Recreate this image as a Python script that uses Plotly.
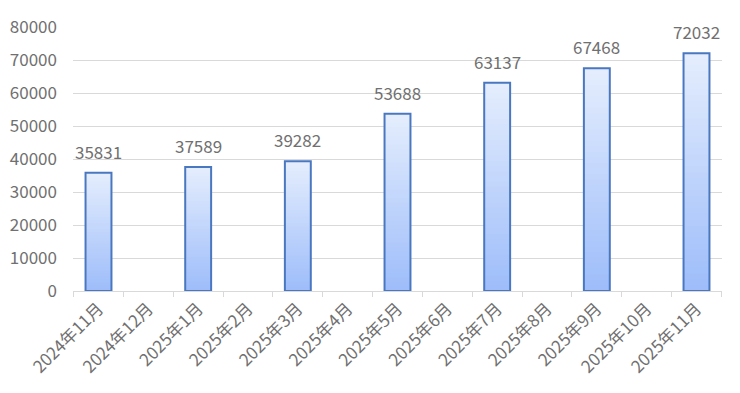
import plotly.graph_objects as go

months = ["2024年11月", "2024年12月", "2025年1月", "2025年2月", "2025年3月", "2025年4月",
          "2025年5月", "2025年6月", "2025年7月", "2025年8月", "2025年9月", "2025年10月", "2025年11月"]
values = [35831, None, 37589, None, 39282, None, 53688, None, 63137, None, 67468, None, 72032]

bottom_rgb = (158, 189, 250)
top_rgb = (228, 237, 253)
N = 40

fig = go.Figure()
for i in range(N):
    t = i / (N - 1)
    c = tuple(round(bottom_rgb[k] + (top_rgb[k] - bottom_rgb[k]) * t) for k in range(3))
    bases = [None if v is None else v * i / N for v in values]
    heights = [None if v is None else v - v * i / N for v in values]
    fig.add_trace(go.Bar(x=months, y=heights, base=bases,
                         marker=dict(color="rgb(%d,%d,%d)" % c, line=dict(width=0)),
                         hoverinfo="skip", showlegend=False))

fig.add_trace(go.Bar(
    x=months, y=values,
    marker=dict(color="rgba(0,0,0,0)", line=dict(color="#4a78c0", width=2)),
    showlegend=False))

for m, v in zip(months, values):
    if v is not None:
        fig.add_annotation(x=m, y=v, text=str(v), showarrow=False, yanchor="bottom",
                           yshift=7, font=dict(family="Noto Sans CJK SC", size=17, color="#707070"))

fig.update_layout(
    width=740, height=393,
    margin=dict(l=73, r=18, t=27, b=102),
    paper_bgcolor="white", plot_bgcolor="white",
    barmode="overlay", bargap=0.48,
    font=dict(family="Noto Sans CJK SC", size=17, color="#707070"),
    xaxis=dict(type="category", tickangle=-45, showline=True, linecolor="#d9d9d9", linewidth=1,
               ticks="outside", tickson="boundaries", ticklen=5, tickcolor="#d9d9d9",
               showgrid=False, automargin=False, tickfont=dict(size=17, color="#707070")),
    yaxis=dict(range=[0, 80000], dtick=10000, showgrid=True, gridcolor="#d9d9d9", gridwidth=1,
               zeroline=False, automargin=False, tickfont=dict(size=17, color="#707070"),
               ticklabelstandoff=15, tickformat="d"),
)

fig.write_html("out.html")
